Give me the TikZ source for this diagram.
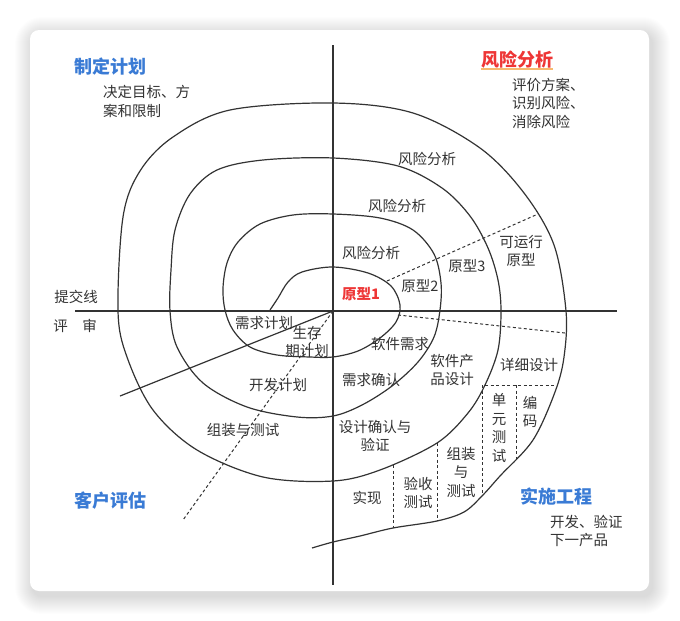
\documentclass[tikz,border=0pt]{standalone}
\usepackage{fontspec}
\newfontfamily\cjk{Noto Sans CJK SC}
\usetikzlibrary{positioning}
\definecolor{inkgray}{HTML}{333333}
\definecolor{titleblue}{HTML}{3A7BD5}
\definecolor{titlered}{HTML}{EE3636}
\definecolor{glow}{HTML}{F6A84B}

\begin{document}
\begin{tikzpicture}[x=1pt, y=-1pt,
    every node/.style={font=\cjk\fontsize{14.5}{18.5}\selectfont, text=inkgray, inner sep=0pt},
    title/.style={font=\cjk\bfseries\fontsize{18}{22}\selectfont, text=titleblue},
    riskhead/.style={title, text=titlered},
    multi/.style={align=center},
    desc/.style={align=left, anchor=west},
    axis/.style={draw=inkgray, line width=1.2pt},
    spiral/.style={draw=inkgray, line width=1.2pt},
    divider/.style={draw=inkgray, line width=1pt, dash pattern=on 3pt off 2.5pt},
]
\useasboundingbox (0,0) rectangle (680,621);
% card with soft shadow
\foreach \s in {1,...,18} {
    \fill[black, opacity=0.009, rounded corners=9+\s] (30-\s+3,30-\s+5) rectangle (649+\s+3,591+\s+5);
}
\fill[white, rounded corners=9] (30,30) rectangle (649,591);

\coordinate (C) at (333,311);
\coordinate (top) at (333,45);
\coordinate (bottom) at (333,585);
\coordinate (left) at (75,311);
\coordinate (right) at (617,311);
\draw[axis] (top) -- (bottom);
\draw[axis] (left) -- (right);

\draw[spiral] plot[smooth, tension=0.55] coordinates {
    (270,310) (278,298) (288,282) (302,272) (333,267) (368,273) (391,286) (400,305)
    (396,322) (380,338) (358,351) (333,357) (310,357) (277,355) (250,347) (233,330)
    (225,310) (223,288) (227,263) (238,242) (260,224) (293,215) (333,214) (380,218)
    (413,230) (434,254) (441,283) (440,310) (434,337) (418,362) (392,386) (362,405)
    (333,416) (297,417) (247,407) (203,383) (177,347) (170,311) (171,270) (175,230)
    (190,194) (217,170) (263,160) (333,158) (398,166) (442,188) (470,216) (488,248)
    (498,280) (501,311) (498,350) (485,385) (468,413) (437,443) (380,470) (333,481)
    (263,477) (197,450) (153,410) (127,357) (118,311) (123,217) (140,171) (173,137)
    (230,110) (333,103) (413,113) (480,148) (524,193) (554,245) (566,311) (564,357)
    (555,392) (533,440) (500,476) (482,496) (464,512) (437,521) (393,528) (360,536)
    (333,542) (312,548)};

% radial and sector lines
\coordinate (cut1) at (120,396);
\coordinate (cut2) at (183,520);
\coordinate (p1) at (387,281);
\coordinate (p2) at (538,214);
\coordinate (q1) at (398,315);
\coordinate (q2) at (565,333);
\coordinate (d1) at (485,385);
\coordinate (d2) at (558,385);
\coordinate (u1) at (482,496);
\coordinate (e1) at (516,385);
\coordinate (e2) at (516,460);
\coordinate (i1) at (437,443);
\coordinate (i2) at (437,521);
\coordinate (a1) at (393,465);
\coordinate (a2) at (393,528);
\draw[axis] (C) -- (cut1);
\draw[divider] (C) -- (cut2);
\draw[divider] (p1) -- (p2);
\draw[divider] (q1) -- (q2);
\draw[divider] (d1) -- (d2);
\draw[divider] (d1 -| u1) -- (u1);
\draw[divider] (e1) -- (e2);
\draw[divider] (i1) -- (i2);
\draw[divider] (a1) -- (a2);

% quadrant headings
\node[title] (plan) at (110,67) {制定计划};
\node[riskhead] (risk) at (517,60) {风险分析};
\draw[glow, line width=2.5pt, opacity=0.8] (risk.south west) -- (risk.south east);
\node[title] (eval) at (110,501) {客户评估};
\node[title] (engr) at (556,497) {实施工程};
\node[desc] (planDesc) at (103,101.5) {决定目标、方\\案和限制};
\node[desc] (riskDesc) at (512,103) {评价方案、\\识别风险、\\消除风险};
\node[desc] (engrDesc) at (550,531) {开发、验证\\下一产品};

% labels on the spiral
\node (risk3) at (427,159) {风险分析};
\node (risk2) at (397,206) {风险分析};
\node (risk1) at (371,253) {风险分析};
\node[font=\cjk\bfseries\fontsize{14.5}{18.5}\selectfont, text=titlered] (proto1) at (361,294) {原型1};
\node (proto2) at (420,286) {原型2};
\node (proto3) at (467,266) {原型3};
\node[multi] (protoRun) at (521,251) {可运行\\原型};
\node (submit) at (76,297) {提交线};
\node (review) at (75,326) {评\hspace{1em}审};
\node (reqPlan) at (264,323) {需求计划};
\node[multi] (lifePlan) at (307,342) {生存\\期计划};
\node (devPlan) at (278,385) {开发计划};
\node (intPlan) at (243,430) {组装与测试};
\node (swReq) at (400,344) {软件需求};
\node (reqVal) at (371,380) {需求确认};
\node[multi] (prodDesign) at (452,370) {软件产\\品设计};
\node (detDesign) at (529,365) {详细设计};
\node[multi] (unitTest) at (499,428) {单\\元\\测\\试};
\node[multi] (coding) at (530,412) {编\\码};
\node[multi] (intTest) at (461,472) {组装\\与\\测试};
\node[multi] (accTest) at (418,493) {验收\\测试};
\node (impl) at (367,498) {实现};
\node[multi] (designVal) at (375,436) {设计确认与\\验证};
\end{tikzpicture}
\end{document}
